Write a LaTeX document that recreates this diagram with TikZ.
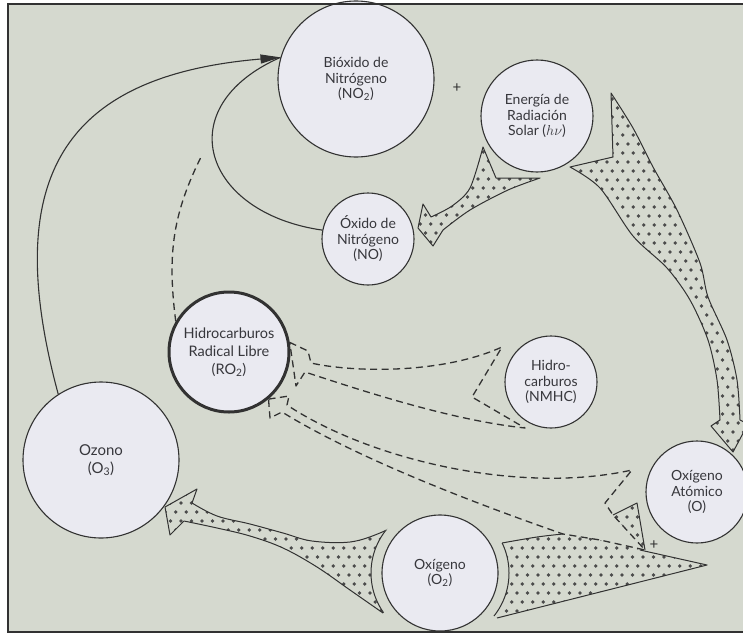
\documentclass[tikz,border=0pt]{standalone}
\usepackage{fontspec}
\setmainfont{Lato}
\usetikzlibrary{arrows.meta}
\definecolor{bgc}{RGB}{213,217,207}
\definecolor{circc}{RGB}{234,234,241}
\definecolor{ink}{RGB}{50,50,50}
\definecolor{txt}{RGB}{55,55,60}
\definecolor{dotc}{RGB}{75,75,75}

\newcommand\dotfield[4]{%
  \foreach \i in {0,...,#3}{\foreach \j in {0,...,#4}{%
    \pgfmathsetmacro\xx{#1+10.5*\i+5.25*mod(\j,2)}%
    \pgfmathsetmacro\yy{#2+9*\j}%
    \fill[dotc] (\xx,\yy) circle (1.9pt);}}}

\def\Dpath{(418,228) -- (423,204) -- (431,217)
 -- plot[smooth] coordinates {(431,217) (452,206) (470,188) (483,147)}
 -- (496,178) -- (540,178)
 -- plot[smooth] coordinates {(540,178) (508,190) (470,210) (443,230)}
 -- (433,246) -- cycle}

\def\Epath{(611,93) -- (613,157) -- (570,167)
 -- plot[smooth] coordinates {(570,167) (600,188) (633,236) (667,268) (690,300) (708,340) (717,380) (720,420)}
 -- (711,426) -- (733,452) -- (748,424) -- (740,420)
 -- plot[smooth] coordinates {(740,420) (737,380) (727,340) (708,297) (700,263) (677,210) (653,167) (633,128) (611,93)}
 -- cycle}

\def\Spath{(165,507) -- (197,489) -- (192,503)
 -- plot[smooth,tension=0.6] coordinates {(192,503) (217,516) (250,524) (283,533) (312,541) (350,542) (380,533) (398,523)}
 -- (440,570) -- (502,543)
 -- plot[smooth,tension=0.6] coordinates {(502,543) (537,537) (563,534) (600,540) (640,550) (707,565)}
 -- plot[smooth,tension=0.6] coordinates {(707,565) (600,592) (497,618)}
 -- (440,580) -- (383,613)
 -- plot[smooth,tension=0.6] coordinates {(383,613) (350,590) (317,567) (283,548) (250,536) (217,528) (184,521)}
 -- (170,535) -- cycle}

\def\Tpath{(613,515) -- (637,503) -- (645,550) -- cycle}

\begin{document}
\begin{tikzpicture}[x=1pt,y=-1pt,
  bub/.style={circle,draw=ink,fill=circc,line width=1.1pt,align=center,text=txt,
    font=\fontsize{14}{15.5}\selectfont,inner sep=0pt},
  edge/.style={draw=ink,line width=1.1pt},
  dsh/.style={draw=ink,line width=1.3pt,dash pattern=on 7pt off 4.5pt},
  outl/.style={draw=ink,line width=1pt,line join=round}]

\useasboundingbox (0,0) rectangle (743,634);
\fill[white] (0,0) rectangle (743,634);
\fill[bgc] (8,4) rectangle (743,632);

% stippled arrows
\begin{scope}\clip \Dpath; \dotfield{415}{143}{13}{13}\end{scope}
\draw[outl] \Dpath;
\begin{scope}\clip \Epath; \dotfield{565}{90}{18}{41}\end{scope}
\draw[outl] \Epath;
\begin{scope}\clip \Spath; \dotfield{160}{485}{53}{16}\end{scope}
\begin{scope}\clip \Tpath; \dotfield{606}{499}{5}{7}\end{scope}
\draw[outl] (613,515) -- (637,503) -- (645,550);
% outline of left part of big arrow
\draw[outl] plot[smooth,tension=0.6] coordinates {(398,523) (380,533) (350,542) (312,541) (283,533) (250,524) (217,516) (192,503)}
  -- (197,489) -- (165,507) -- (170,535) -- (184,521)
  -- plot[smooth,tension=0.6] coordinates {(184,521) (217,528) (250,536) (283,548) (317,567) (350,590) (383,613)};
% outline of right part of big arrow
\draw[outl] plot[smooth,tension=0.6] coordinates {(502,543) (537,537) (563,534)};
\draw[outl] plot[smooth,tension=0.6] coordinates {(640,550) (707,565)} -- plot[smooth,tension=0.6] coordinates {(707,565) (600,592) (497,618)};
% gap round the O2 circle
\begin{scope}\clip (8,4) rectangle (743,632); \fill[bgc] (440,573) circle (69pt);\end{scope}
\begin{scope}\clip \Spath; \draw[outl] (440,573) circle (69pt);\end{scope}

% nodes
\node[bub,minimum size=156pt] (no2) at (356,79) {Bióxido de\\Nitrógeno\\(NO\textsubscript{2})};
\node[bub,minimum size=112pt] (sol) at (537,116) {Energía de\\Radiación\\Solar ($h\nu$)};
\node[bub,minimum size=92pt] (no) at (368,239) {Óxido de\\Nitrógeno\\(NO)};
\node[bub,minimum size=120pt,line width=3pt,font=\fontsize{14.5}{18}\selectfont] (ro2) at (229,352) {Hidrocarburos\\Radical Libre\\(RO\textsubscript{2})};
\node[bub,minimum size=92pt] (nmhc) at (551,382) {Hidro-\\carburos\\(NMHC)};
\node[bub,minimum size=156pt,font=\fontsize{15}{18}\selectfont] (oz) at (101,460) {Ozono\\(O\textsubscript{3})};
\node[bub,minimum size=116pt] (o2) at (440,573) {Oxígeno\\(O\textsubscript{2})};
\node[bub,minimum size=102pt] (oat) at (697,492) {Oxígeno\\Atómico\\(O)};
\coordinate (c1) at (202,155);

% solid connectors
\draw[edge] (no.169) .. controls (203,213) and (168,107) .. (no2.164);
\draw[edge,-{Triangle[length=20pt,width=9pt]}] (oz.123) .. controls (1,182) and (59,76) .. (no2.164);
% dashed connectors
\draw[dsh] (ro2.150) .. controls (167,253) and (173,213) .. (c1);
\draw[dsh,line join=round] (ro2.9) -- (308,351) -- (311,363) .. controls (350,372) and (440,375) .. (502,347)
  -- (472,397) -- (525,428) .. controls (450,420) and (360,390) .. (305,372) -- (296,386) -- cycle;
\draw[dsh,line join=round] (ro2.310) -- (289,396) -- (287,405) .. controls (370,460) and (520,495) .. (632,470)
  -- (605,503) -- (613,515) -- (645,550) -- (600,540) -- (563,534)
  .. controls (480,505) and (360,460) .. (282,412) -- (270,418) -- cycle;

\node[text=ink,font=\fontsize{15}{15}\selectfont] (p1) at (457,88) {+};
\node[text=ink,font=\fontsize{15}{15}\selectfont] (p2) at (654,545) {+};

\draw[ink,line width=1.2pt] (743,4) -- (8,4) -- (8,632) -- (743,632);
\end{tikzpicture}
\end{document}
